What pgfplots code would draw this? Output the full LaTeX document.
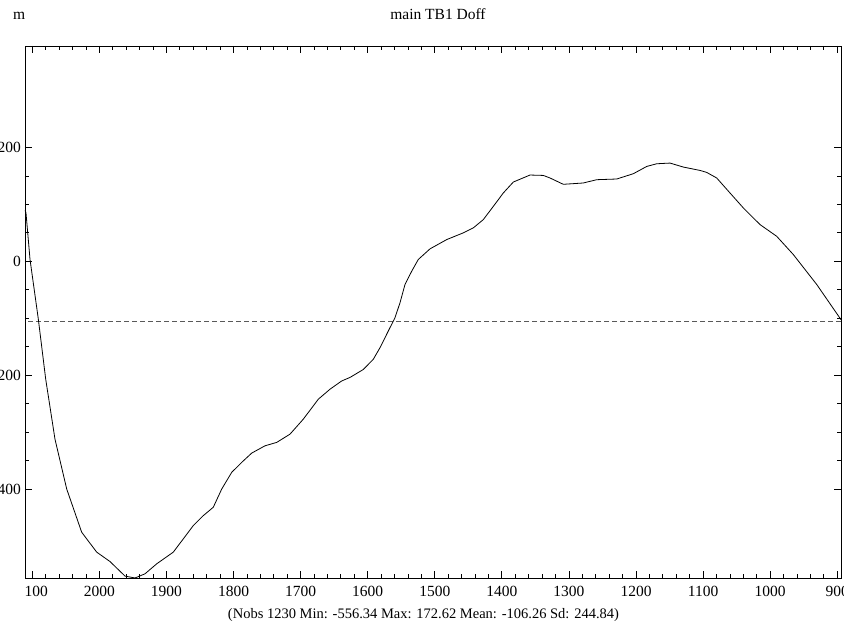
\documentclass[border=0pt]{standalone}
\usepackage{fontspec}
\setmainfont{Liberation Serif}
\usepackage{pgfplots}
\pgfplotsset{compat=1.18}
\begin{document}
\begin{tikzpicture}[x=1bp,y=1bp]
\useasboundingbox (0,0) rectangle (844,629);
\begin{axis}[
  at={(25bp,51bp)}, anchor=south west,
  scale only axis, width=816bp, height=532bp,
  x dir=reverse,
  xmin=894.4, xmax=2110.9, ymin=-556.34, ymax=378.3,
  xtick={900,1000,...,2100},
  xticklabels={900,1000,1100,1200,1300,1400,1500,1600,1700,1800,1900,2000,\phantom{2}100},
  ytick={-400,-200,0,200},
  minor x tick num=4, minor y tick num=3,
  tick align=inside,
  major tick length=7bp, minor tick length=4bp,
  tick style={black, line width=0.8bp},
  axis line style={line width=0.9bp},
  ticklabel style={font=\fontsize{15.5bp}{18bp}\selectfont},
  xticklabel style={anchor=base, yshift=-19bp},
  yticklabel style={anchor=east, inner sep=0pt, xshift=-4bp},
  /pgf/number format/assume math mode=true,
  /pgf/number format/1000 sep={},
]
\addplot[color=black!65, line width=1bp, dash pattern=on 5bp off 3bp] coordinates {(894.4,-106.26) (2110.9,-106.26)};
\addplot[black, line width=0.8bp] coordinates {
(2110.9,90) (2109.4,85.0) (2103.4,3.2) (2091.1,-100.8) (2080.0,-207.2)
(2066.2,-312.3) (2048.7,-400.0) (2026.4,-475.9) (2004.0,-510.9) (1984.2,-527.4)
(1961.8,-553.0) (1946.9,-556.3) (1932.0,-549.0) (1914.5,-531.4) (1889.8,-510.9)
(1860.0,-464.3) (1845.1,-446.8) (1830.2,-432.1) (1817.6,-400.0) (1802.7,-370.7)
(1787.8,-353.2) (1772.9,-336.9) (1753.1,-324.1) (1735.6,-318.1) (1715.8,-303.6)
(1696.0,-277.3) (1673.6,-242.2) (1656.2,-224.7) (1638.8,-210.2) (1626.4,-204.0)
(1606.5,-190.0) (1591.6,-172.0) (1581.6,-151.6) (1569.3,-122.5) (1559.3,-99.0)
(1551.8,-72.7) (1544.4,-40.7) (1534.4,-17.4) (1524.6,3.2) (1507.1,21.9)
(1482.2,38.2) (1457.5,50.0) (1442.6,58.7) (1427.6,73.3) (1412.7,96.6)
(1397.8,120.1) (1382.9,139.3) (1358.0,151.6) (1338.2,150.9) (1328.2,146.4)
(1308.4,135.3) (1278.6,137.6) (1258.6,143.4) (1228.8,144.6) (1204.0,153.9)
(1184.0,166.7) (1169.1,171.4) (1149.3,172.6) (1129.5,165.6) (1104.6,159.7)
(1094.6,156.2) (1079.7,146.4) (1059.9,120.1) (1040.0,93.8) (1015.1,64.5)
(990.3,44.0) (965.5,11.9) (930.6,-40.7) (894.4,-102.5)
};
\end{axis}
\node[anchor=base west, inner sep=0pt, font=\fontsize{15.5bp}{18bp}\selectfont] at (13,609.5) {m};
\node[anchor=base, inner sep=0pt, font=\fontsize{15.5bp}{18bp}\selectfont] at (438,609.5) {main TB1 Doff};
\node[anchor=base, inner sep=0pt, font=\fontsize{14.5bp}{17bp}\selectfont] at (423.5,10) {(Nobs 1230 Min: -556.34 Max: 172.62 Mean: -106.26 Sd: 244.84)};
\end{tikzpicture}
\end{document}
